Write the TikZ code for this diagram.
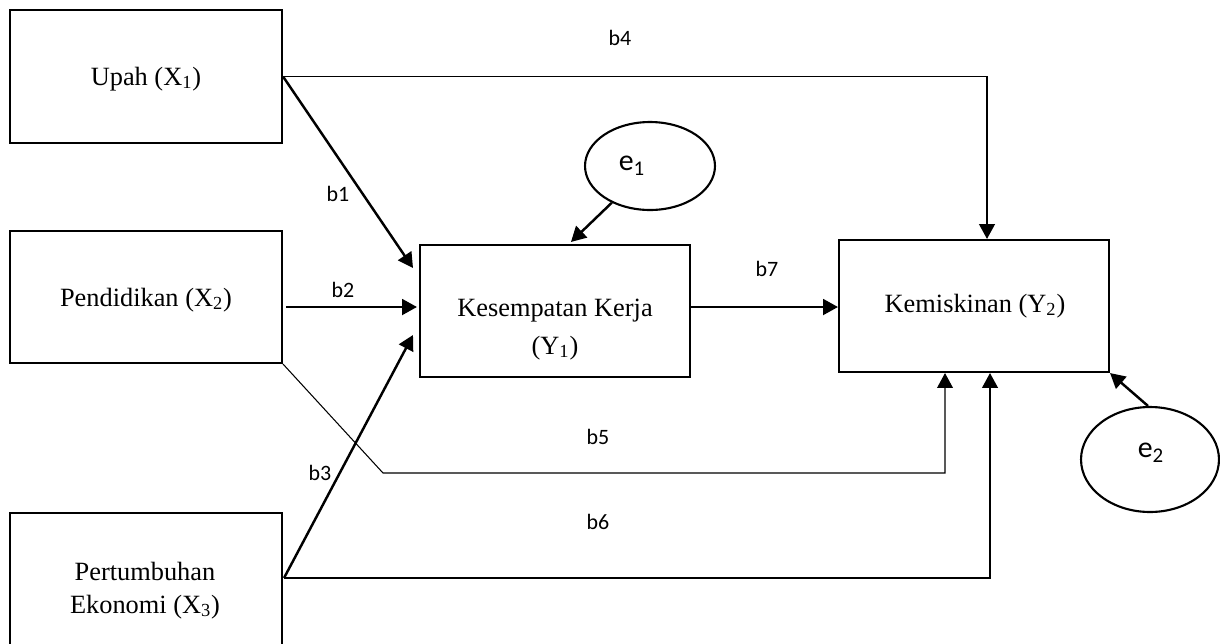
\documentclass[tikz,border=0pt]{standalone}
\usepackage{fontspec}
\setmainfont{Liberation Serif}
\newfontfamily\labelfont{Carlito}
\usetikzlibrary{arrows.meta,shapes.geometric,calc}
\begin{document}
\begin{tikzpicture}[x=0.02cm,y=-0.02cm,
 box/.style={draw,line width=1.2pt,inner sep=0pt,rectangle},
 err/.style={draw,line width=1.2pt,ellipse,inner sep=0pt},
 boxtext/.style={font=\fontsize{15}{21}\selectfont,inner sep=0pt,anchor=base},
 lab/.style={font=\labelfont\fontsize{12.5}{14}\selectfont,inner sep=0pt},
 etext/.style={font=\labelfont\fontsize{17}{20}\selectfont,inner sep=0pt},
 tip/.style={-{Triangle[length=8.5pt,width=9pt]}},
 arr/.style={line width=1.4pt,tip},
 midarr/.style={line width=1pt,tip},
 thinarr/.style={line width=0.6pt,tip},
]
\useasboundingbox (0,0) rectangle (1220,643);

% boxes
\node[box,minimum width=5.44cm,minimum height=2.66cm] (up) at (146,76.5) {};
\node[box,minimum width=5.44cm,minimum height=2.64cm] (pend) at (146,297) {};
\node[box,minimum width=5.44cm,minimum height=2.94cm] (pert) at (146,586.5) {};
\node[box,minimum width=5.4cm,minimum height=2.64cm] (kes) at (555,311) {};
\node[box,minimum width=5.4cm,minimum height=2.64cm] (kem) at (974,306) {};
\node[err,minimum width=2.6cm,minimum height=1.76cm] (e1) at (650,166) {};
\node[err,minimum width=2.76cm,minimum height=2.1cm] (e2) at (1150,459.5) {};

% box texts
\node[boxtext] (tup) at (146,85) {Upah (X\textsubscript{1})};
\node[boxtext] (tpend) at (146,306) {Pendidikan (X\textsubscript{2})};
\node[boxtext] (tpert1) at (145,580) {Pertumbuhan};
\node[boxtext] (tpert2) at (145,613) {Ekonomi (X\textsubscript{3})};
\node[boxtext] (tkes1) at (555,316) {Kesempatan Kerja};
\node[boxtext] (tkes2) at (555,354) {(Y\textsubscript{1})};
\node[boxtext] (tkem) at (975,312) {Kemiskinan (Y\textsubscript{2})};
\node[etext] (te1) at (632,166) {e\textsubscript{1}};
\node[etext] (te2) at (1151,453) {e\textsubscript{2}};

% labels
\node[lab] (lb1) at (338,194) {b1};
\node[lab] (lb2) at (343,290) {b2};
\node[lab] (lb3) at (320,473) {b3};
\node[lab] (lb4) at (620,38) {b4};
\node[lab] (lb5) at (598,437) {b5};
\node[lab] (lb6) at (598,522) {b6};
\node[lab] (lb7) at (767,269) {b7};

% connectors
\coordinate (t1) at (413,268);
\coordinate (t3) at (413,335);
\coordinate (k5) at (383,473);
\draw[arr] (up.east) -- (t1);
\draw[arr] ($(pend.east)+(3,10)$) -- ($(kes.west)+(-2,-4)$);
\draw[arr] ($(pert.north east)+(1,66)$) -- (t3);
\draw[midarr] (up.east) -| ($(kem.north)+(13,0)$);
\draw[thinarr] (pend.south east) -- (k5) -| ($(kem.south)+(-29,0)$);
\draw[midarr] ($(pert.north east)+(1,66)$) -| ($(kem.south)+(16,0)$);
\draw[arr] ($(kes.east)+(0,-4)$) -- ($(kem.west)+(0,1)$);
\draw[arr] (e1) -- ($(kes.north west)+(152,-2)$);
\draw[arr] ($(e2.north)+(-2,0)$) -- (kem.south east);
\end{tikzpicture}
\end{document}
